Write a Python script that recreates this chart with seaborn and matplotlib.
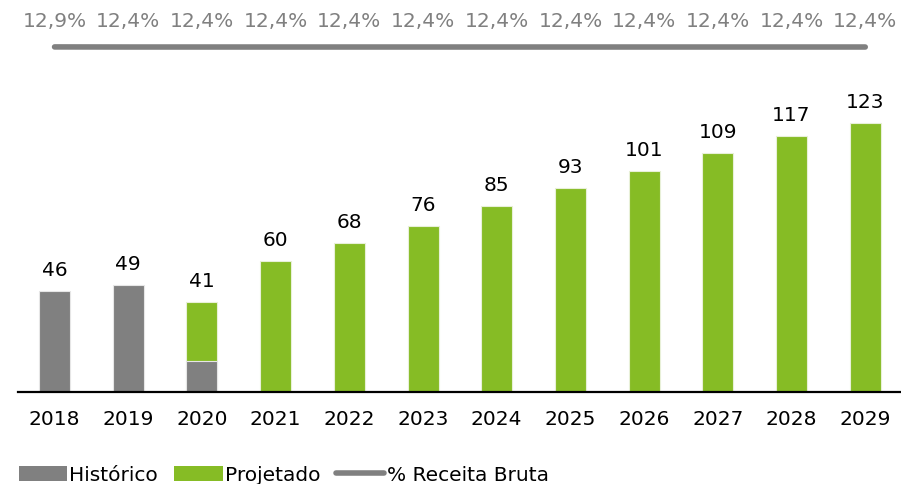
import numpy as np
import pandas as pd
import matplotlib.pyplot as plt
import seaborn as sns
from matplotlib.patches import Patch
from matplotlib.lines import Line2D
import matplotlib.transforms as mtransforms

sns.set_style("white")
plt.rcParams['font.family'] = ['DejaVu Sans']
plt.rcParams['text.color'] = 'black'
plt.rcParams['xtick.color'] = 'black'
plt.rcParams['xtick.labelcolor'] = 'black'

# === data
years = ["2018", "2019", "2020", "2021", "2022", "2023", "2024", "2025", "2026", "2027", "2028", "2029"]
historico = [46, 49, 14, 0, 0, 0, 0, 0, 0, 0, 0, 0]
projetado = [0, 0, 27, 60, 68, 76, 85, 93, 101, 109, 117, 123]
pct_receita = [12.9, 12.4, 12.4, 12.4, 12.4, 12.4, 12.4, 12.4, 12.4, 12.4, 12.4, 12.4]
pct_labels = ["12,9%", "12,4%", "12,4%", "12,4%", "12,4%", "12,4%",
              "12,4%", "12,4%", "12,4%", "12,4%", "12,4%", "12,4%"]

GRAY = "#808080"
GREEN = "#86BC25"
FS = 14.5

df = pd.DataFrame({"ano": years, "hist": historico, "proj": projetado})
df["total"] = df["hist"] + df["proj"]
df["proj_stack"] = np.where(df["proj"] > 0, df["total"], 0)

fig = plt.figure(figsize=(9.01, 4.85), dpi=100)
ax = fig.add_axes([17.7 / 901, 92 / 485, 884.4 / 901, 393 / 485])

# green (stacked on top of historico) first, then the gray part
sns.barplot(data=df, x="ano", y="proj_stack", order=years, color=GREEN, saturation=1,
            width=0.42, edgecolor="#e8f0d8", linewidth=0.8, ax=ax)
sns.barplot(data=df, x="ano", y="hist", order=years, color=GRAY, saturation=1,
            width=0.42, edgecolor="#e6e6e6", linewidth=0.8, ax=ax)

ax.set_xlim(-0.5, len(years) - 0.5)
ax.set_ylim(0, 393 / 2.19)
ax.set_xlabel("")
ax.set_ylabel("")
ax.set_yticks([])
ax.tick_params(axis="x", length=0, pad=12.5, labelsize=FS, labelcolor="black")
for s in ["top", "left", "right"]:
    ax.spines[s].set_visible(False)
ax.spines["bottom"].set_color("black")
ax.spines["bottom"].set_linewidth(1.6)

for i, v in enumerate(df["total"]):
    ax.annotate(str(v), (i, v), xytext=(0, 11.5), textcoords="offset points",
                ha="center", va="baseline", fontsize=FS, color="black")

# % Receita Bruta line on its own (wide) scale at the top, so it reads flat
ax2 = ax.twinx()
mid = np.mean(pct_receita)
k = 6
ax2.set_ylim(mid - 345 * k, mid + 48 * k)
sns.lineplot(x=np.arange(len(years)), y=pct_receita, color=GRAY, linewidth=4,
             solid_capstyle="round", ax=ax2)
ax2.set_yticks([])
ax2.set_ylabel("")
for s in ax2.spines.values():
    s.set_visible(False)

trans = mtransforms.blended_transform_factory(ax2.transData, ax2.transAxes)
for i, lab in enumerate(pct_labels):
    ax2.text(i, (393 - 27) / 393, lab, transform=trans, ha="center", va="baseline",
             fontsize=FS, color=GRAY)

handles = [Patch(facecolor=GRAY, edgecolor="none"),
           Patch(facecolor=GREEN, edgecolor="none"),
           Line2D([0], [0], color=GRAY, linewidth=4, solid_capstyle="round")]
leg = fig.legend(handles, ["Histórico", "Projetado", "% Receita Bruta"], ncol=3,
                 loc="center left", bbox_to_anchor=(19 / 901, 9 / 485), frameon=False,
                 fontsize=FS, handlelength=2.4, handleheight=0.7, handletextpad=0.1,
                 columnspacing=0.8, borderpad=0, borderaxespad=0)
for t in leg.get_texts():
    t.set_color("black")

plt.savefig("out.png", dpi=100)
